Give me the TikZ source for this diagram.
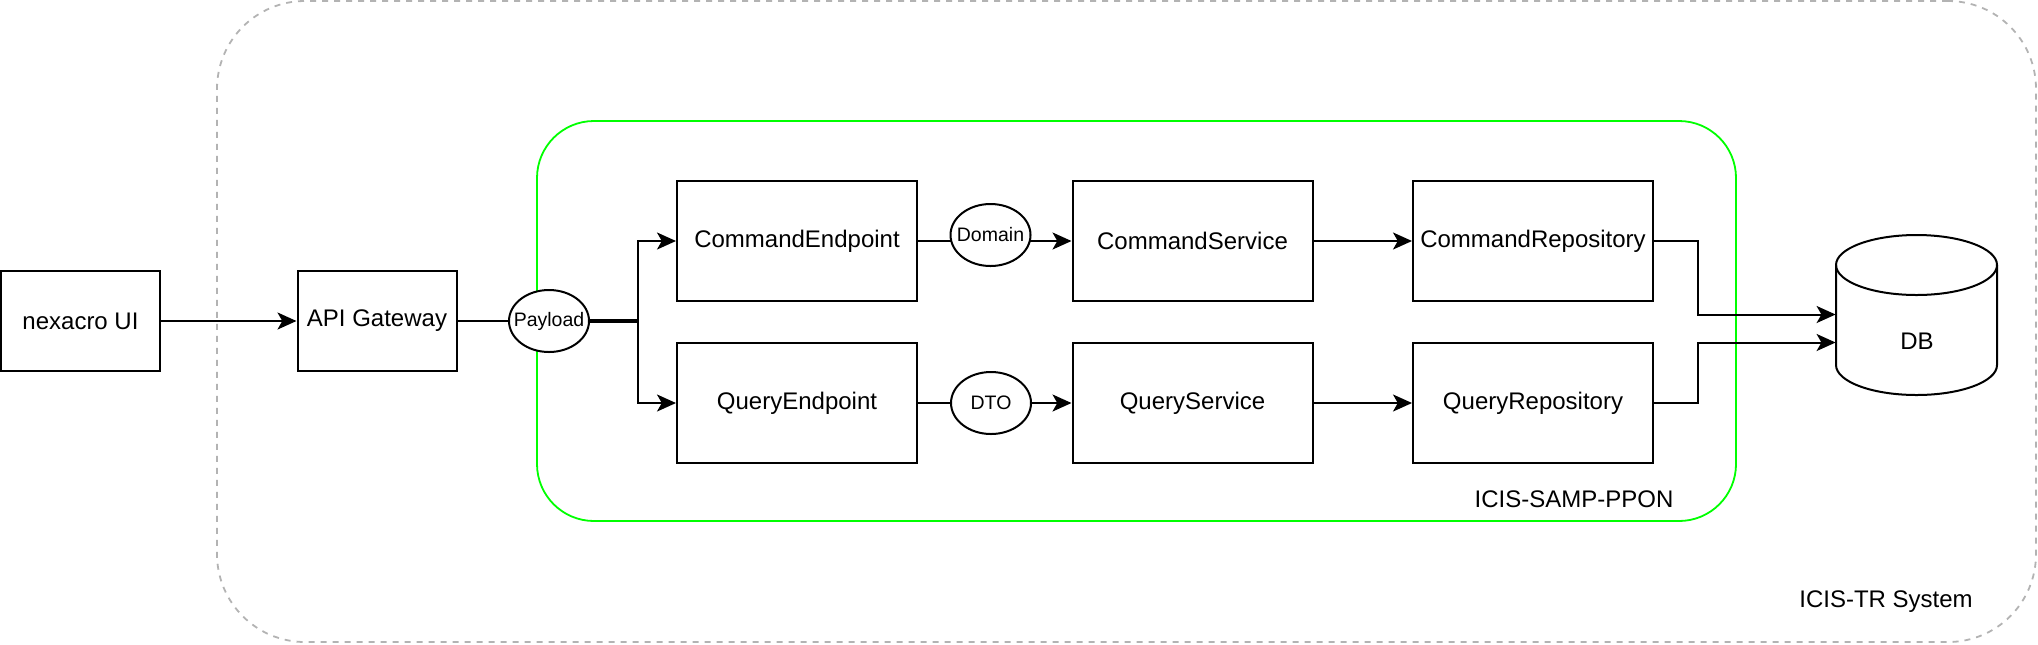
\documentclass[tikz,border=0pt]{standalone}
\usepackage{fontspec}
\setmainfont{Liberation Sans}
\usetikzlibrary{arrows.meta,calc,shapes.geometric}
\pgfdeclarelayer{contlayer}
\pgfdeclarelayer{edgelayer}
\pgfsetlayers{contlayer,edgelayer,main}
\definecolor{dashgray}{HTML}{B3B3B3}
\definecolor{brightgreen}{HTML}{00FF00}
\newcommand\tagtext[1]{\makebox[0pt][c]{#1}}
\tikzset{
 box/.style={draw=black, line width=1pt, fill=white, minimum width=120pt, minimum height=60pt, inner sep=0pt, font=\fontsize{12pt}{14pt}\selectfont},
 smallbox/.style={box, minimum width=79.5pt, minimum height=50pt},
 tag/.style={draw=black, line width=1pt, fill=white, ellipse, minimum width=40pt, minimum height=31pt, inner sep=0pt, font=\fontsize{9.75pt}{11pt}\selectfont},
 link/.style={draw=black, line width=1pt},
 arr/.style={link, -{Stealth[length=9.5pt,width=8.5pt,inset=2.4pt]}},
 lbl/.style={font=\fontsize{12pt}{14pt}\selectfont, inner sep=0pt},
 outerc/.style={draw=dashgray, line width=0.9pt, dash pattern=on 3pt off 3pt, rounded corners=44pt, inner sep=0pt},
 greenc/.style={draw=brightgreen, line width=0.9pt, rounded corners=28.5pt, inner sep=0pt},
}
\begin{document}
\begin{tikzpicture}[x=0.5pt,y=-0.5pt]
\useasboundingbox (0,0) rectangle (2038,644);
\begin{pgfonlayer}{contlayer}
\node[outerc, minimum width=909.5pt, minimum height=320.5pt] (tr) at (1126.5,321.5) {};
\node[greenc, minimum width=599.5pt, minimum height=200pt] (samp) at (1136.5,321) {};
\end{pgfonlayer}
\node[lbl] (trlabel) at (1886,602) {ICIS-TR System};
\node[lbl] (samplabel) at (1574,499) {ICIS-SAMP-PPON};

\node[smallbox] (UI) at (80.5,321) {nexacro UI};
\node[smallbox] (API) at (377,321) {API Gateway};
\node[tag] (Payload) at (549,321) {\tagtext{Payload}};

\node[box] (CE) at (797,241) {CommandEndpoint};
\node[box] (QE) at (797,403) {QueryEndpoint};
\node[tag] (Domain) at (990.5,235) {\tagtext{Domain}};
\node[tag] (DTO) at (991,403) {\tagtext{DTO}};
\node[box] (CS) at (1192.5,241) {CommandService};
\node[box] (QS) at (1192.5,403) {QueryService};
\node[box] (CR) at (1533,241) {CommandRepository};
\node[box] (QR) at (1533,403) {QueryRepository};

\node[inner sep=0pt, minimum width=80.5pt, minimum height=79.5pt] (DB) at (1916.5,314.5) {};
\path[link, fill=white] (1836,265) -- (1836,365)
  arc[start angle=180, end angle=360, x radius=40.25pt, y radius=15pt] -- (1997,265)
  arc[start angle=0, end angle=180, x radius=40.25pt, y radius=15pt] -- cycle;
\draw[link] (1836,265) arc[start angle=180, end angle=360, x radius=40.25pt, y radius=15pt];
\node[lbl] (dbtext) at (1917,341) {DB};

\begin{pgfonlayer}{edgelayer}
\draw[arr] (UI.east) -- (API.west);
\draw[link] (API.east) -- (Payload.west);
\draw[arr] ([yshift=0.5pt]Payload.east) -- ++(48,0) |- (CE.west);
\draw[arr] ([yshift=-0.5pt]Payload.east) -- ++(48,0) |- (QE.west);
\draw[link] (CE.east) -- (Domain.center |- CE.east);
\draw[arr] (Domain.center |- CS.west) -- (CS.west);
\draw[link] (QE.east) -- (DTO.center);
\draw[arr] (DTO.center) -- (QS.west);
\draw[arr] (CS.east) -- (CR.west);
\draw[arr] (QS.east) -- (QR.west);
\draw[arr] (CR.east) -- ++(44,0) |- (DB.west);
\draw[arr] (QR.east) -- ++(44,0) |- ([yshift=-14pt]DB.west);
\end{pgfonlayer}
\end{tikzpicture}
\end{document}
